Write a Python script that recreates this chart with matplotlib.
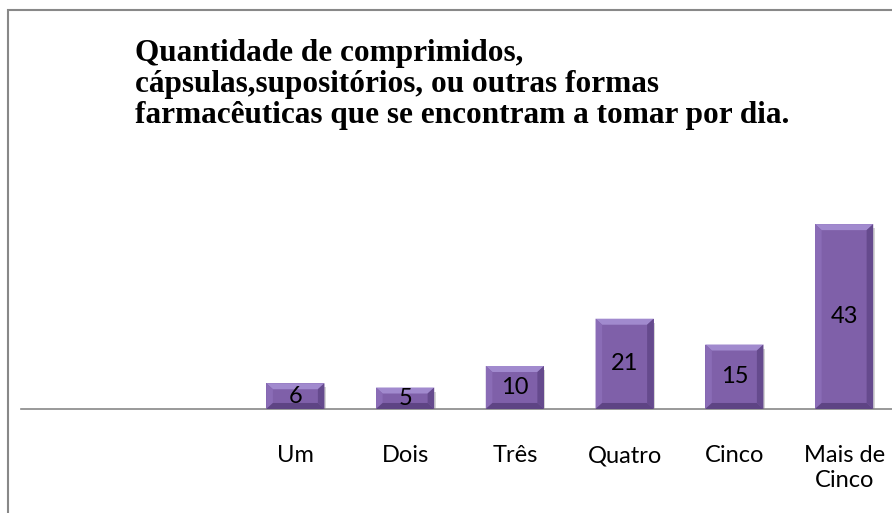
import matplotlib
matplotlib.use("Agg")
from matplotlib import pyplot as plt
from matplotlib.patches import Polygon, Rectangle
import matplotlib.patheffects as pe

categories = ["", "", "Um", "Dois", "Três", "Quatro", "Cinco", "Mais de\nCinco"]
values = [0, 0, 6, 5, 10, 21, 15, 43]
title = ("Quantidade de comprimidos,\n"
         "cápsulas,supositórios, ou outras formas\n"
         "farmacêuticas que se encontram a tomar por dia.")

face = "#7f60a9"
top_c = "#a18ace"
left_c = "#8a6cb6"
right_c = "#654a8d"
bot_c = "#5e4484"

fig = plt.figure(figsize=(8.92, 5.13), dpi=100)
W, H = 892, 513
ax = fig.add_axes([21 / W, (H - 409) / H, (899 - 21) / W, 215 / H])

x = list(range(len(categories)))
bars = ax.bar(x, values, width=0.53, color=face, zorder=2,
              path_effects=[pe.SimplePatchShadow(offset=(1, -3), shadow_rgbFace="#aaaaaa", alpha=0.5),
                            pe.Normal()])

bx = 0.06   # bevel width in data units (x)
by = 1.4    # bevel height in data units (y)
for b, v in zip(bars, values):
    if v == 0:
        continue
    x0, x1 = b.get_x(), b.get_x() + b.get_width()
    y0, y1 = 0, v
    byy = min(by, v / 3)
    ax.add_patch(Polygon([(x0, y1), (x1, y1), (x1 - bx, y1 - byy), (x0 + bx, y1 - byy)],
                         closed=True, color=top_c, zorder=3, lw=0))
    ax.add_patch(Polygon([(x0, y0), (x0, y1), (x0 + bx, y1 - byy), (x0 + bx, y0 + byy)],
                         closed=True, color=left_c, zorder=3, lw=0))
    ax.add_patch(Polygon([(x1, y0), (x1, y1), (x1 - bx, y1 - byy), (x1 - bx, y0 + byy)],
                         closed=True, color=right_c, zorder=3, lw=0))
    ax.add_patch(Polygon([(x0, y0), (x1, y0), (x1 - bx, y0 + byy), (x0 + bx, y0 + byy)],
                         closed=True, color=bot_c, zorder=3, lw=0))
    ax.text(b.get_x() + b.get_width() / 2, v / 2, str(v), ha="center", va="center",
            fontsize=17, family="Lato", color="black", zorder=4)

ax.set_xlim(-0.5, len(categories) - 0.5)
ax.set_ylim(0, 50)
ax.set_xticks(x)
ax.set_xticklabels(categories, fontsize=17, family="Lato", linespacing=1.2)
ax.tick_params(axis="x", length=0, pad=26)
ax.set_yticks([])
for s in ["top", "left", "right"]:
    ax.spines[s].set_visible(False)
ax.spines["bottom"].set_color("#888888")
ax.spines["bottom"].set_linewidth(1.2)

fig.text(135 / W, 1 - 39 / H, title, ha="left", va="top", fontsize=22.5,
         fontweight="bold", family="Liberation Serif", linespacing=1.1)

fig.patches.append(Rectangle((8 / W, -0.1), 1.2, 1 - 10 / H + 0.1, transform=fig.transFigure,
                             fill=False, edgecolor="#888888", lw=1.5))

plt.savefig("out.png", dpi=100)
